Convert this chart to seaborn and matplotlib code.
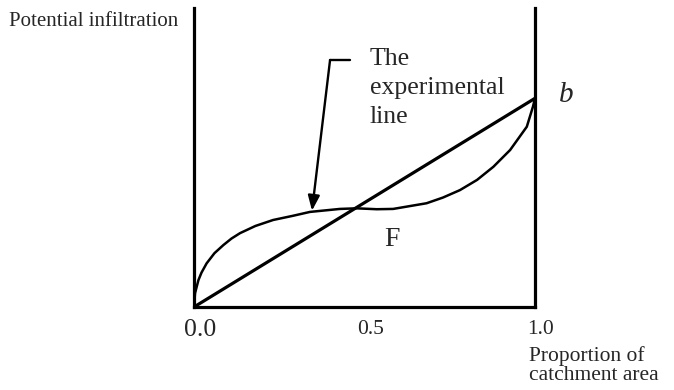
import matplotlib
matplotlib.use("Agg")
import matplotlib.pyplot as plt
import matplotlib.transforms as mtransforms
import seaborn as sns

# ── data ─────────────────────────────────────────────────────────────────────
proportion = [0.0, 0.003, 0.013, 0.022, 0.037, 0.06, 0.086, 0.11, 0.135, 0.18,
              0.232, 0.29, 0.34, 0.428, 0.477, 0.536, 0.584, 0.682, 0.73,
              0.78, 0.83, 0.878, 0.927, 0.976, 0.994, 1.0]
infiltration = [0.0, 0.046, 0.09, 0.115, 0.146, 0.18, 0.207, 0.229, 0.247,
                0.271, 0.291, 0.305, 0.318, 0.328, 0.33, 0.327, 0.328, 0.347,
                0.366, 0.391, 0.425, 0.469, 0.525, 0.603, 0.67, 0.698]
line_x = [0.0, 1.0]
line_y = [0.0, 0.698]
tick_values = [0.0, 0.5, 1.0]
tick_labels = ["0.0", "0.5", "1.0"]
tick_sizes = [18.5, 15.5, 15.5]

sns.set_style("white")
plt.rcParams["font.family"] = ["Liberation Serif", "DejaVu Serif"]

fig = plt.figure(figsize=(6.74, 3.90), dpi=100)
ax = fig.add_axes([194 / 674, 83 / 390, 341 / 674, 299 / 390])

sns.lineplot(x=line_x, y=line_y, ax=ax, color="black", linewidth=2.3,
             sort=False, estimator=None)
sns.lineplot(x=proportion, y=infiltration, ax=ax, color="black", linewidth=1.8,
             sort=False, estimator=None)

ax.set_xlim(0, 1)
ax.set_ylim(0, 1)
ax.set_xlabel("")
ax.set_ylabel("")
ax.set_yticks([])
ax.set_xticks(tick_values)
ax.set_xticklabels(tick_labels)
ax.tick_params(axis="x", length=0, pad=9)
shift = mtransforms.ScaledTranslation(6 / 100, 0, fig.dpi_scale_trans)
for lab, size in zip(ax.get_xticklabels(), tick_sizes):
    lab.set_fontsize(size)
    lab.set_transform(lab.get_transform() + shift)

ax.spines["top"].set_visible(False)
for side in ["left", "right", "bottom"]:
    ax.spines[side].set_color("black")
    ax.spines[side].set_linewidth(2.3)

# annotation: kinked leader to the curve
ax.plot([0.457, 0.399], [0.826, 0.826], color="black", linewidth=1.7)
ax.annotate("", xy=(0.346, 0.322), xytext=(0.399, 0.826),
            arrowprops=dict(arrowstyle="-|>,head_length=0.9,head_width=0.35",
                            color="black", linewidth=1.7, shrinkA=0, shrinkB=0))

fig.text(370 / 674, 1 - 123 / 390, "The\nexperimental\nline", fontsize=18.5,
         ha="left", va="baseline", linespacing=1.42)
fig.text(392 / 674, 1 - 239.5 / 390, "F", fontsize=20, ha="center", va="center")
fig.text(566.5 / 674, 1 - 95 / 390, "b", fontsize=21, style="italic",
         ha="center", va="center")
fig.text(9 / 674, 1 - 22 / 390, "Potential infiltration", fontsize=15,
         ha="left", va="center")
fig.text(529 / 674, 1 - 346 / 390, "Proportion of\ncatchment area",
         fontsize=15.5, ha="left", va="top", linespacing=1.0)

fig.savefig("out.png", dpi=100)
